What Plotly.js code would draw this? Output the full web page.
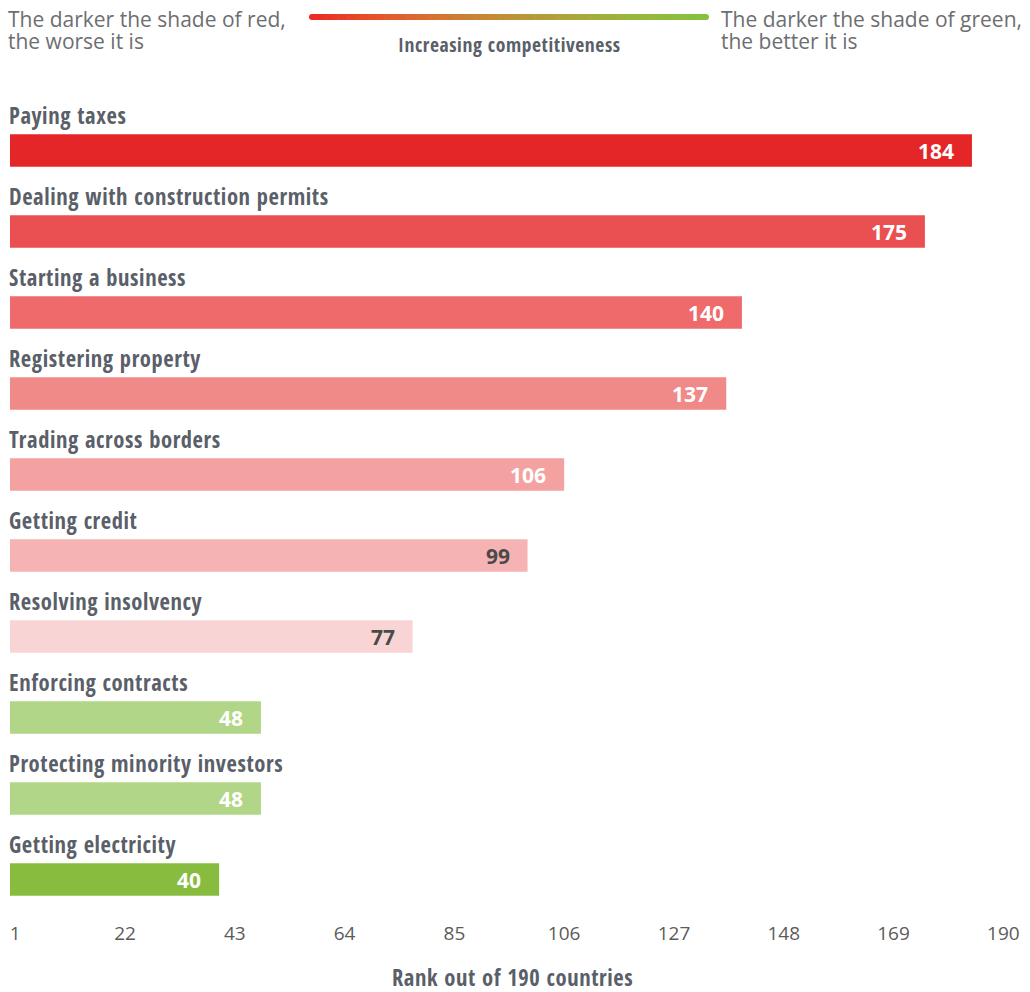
<!DOCTYPE html>
<html>
<head>
<meta charset="utf-8">
<script src="https://cdn.plot.ly/plotly-3.0.1.min.js"></script>
<style>
html,body{margin:0;padding:0;background:#fff;}
#chart{width:1030px;height:992px;}
text[style*="Condensed"]{font-stretch:75% !important;letter-spacing:0.6px;}
</style>
</head>
<body>
<div id="chart"></div>
<script>
const categories = ['Paying taxes', 'Dealing with construction permits', 'Starting a business', 'Registering property', 'Trading across borders', 'Getting credit', 'Resolving insolvency', 'Enforcing contracts', 'Protecting minority investors', 'Getting electricity'];
const ranks = [184, 175, 140, 137, 106, 99, 77, 48, 48, 40];
const barColors = ['#E52628', '#EA4F51', '#EE6A6B', '#F08A88', '#F4A2A1', '#F5B4B3', '#F8D4D4', '#B2D687', '#B2D687', '#88BC3F'];
const valueColors = ['#ffffff', '#ffffff', '#ffffff', '#ffffff', '#ffffff', '#4a4a4a', '#4a4a4a', '#ffffff', '#ffffff', '#ffffff'];
const tickVals = [1, 22, 43, 64, 85, 106, 127, 148, 169, 190];
const xTitle = 'Rank out of 190 countries';
const legendLeft = ['The darker the shade of red,', 'the worse it is'];
const legendRight = ['The darker the shade of green,', 'the better it is'];
const legendMid = 'Increasing competitiveness';
const gradientStops = ['#EE2A24', '#E4552B', '#D27632', '#BE9137', '#A8A83A', '#95B83D', '#86C03E'];

const W = 1030, H = 992;
const M = {l: 10, r: 16, t: 110, b: 72};
const PW = W - M.l - M.r, PH = H - M.t - M.b;
const px = v => (v - M.l) / PW;
const py = v => (H - M.b - v) / PH;

const condensed = '"Open Sans Condensed", "Open Sans", sans-serif';
const openSans = '"Open Sans", "Noto Sans", sans-serif';
const labelGray = '#5A5F69';
const textGray = '#6D6E71';

const trace = {
  type: 'bar',
  orientation: 'h',
  y: categories,
  x: ranks,
  marker: {color: barColors, line: {width: 0}},
  hoverinfo: 'none',
  textposition: 'none'
};

const annotations = [];
categories.forEach((c, i) => {
  annotations.push({
    x: 0, y: c, xref: 'x', yref: 'y', xanchor: 'left', yanchor: 'middle',
    yshift: 35.5, xshift: -2, text: c, showarrow: false, borderpad: 0,
    font: {family: condensed, size: 22.5, color: labelGray, weight: 'bold'}
  });
  annotations.push({
    x: ranks[i], y: c, xref: 'x', yref: 'y', xanchor: 'right', yanchor: 'middle',
    xshift: -16, yshift: 0, text: String(ranks[i]), showarrow: false,
    font: {family: openSans, size: 21, color: valueColors[i], weight: 'bold'}
  });
});
annotations.push({
  x: px(512), y: py(978), xref: 'paper', yref: 'paper', xanchor: 'center', yanchor: 'middle',
  text: xTitle, showarrow: false, borderpad: 0,
  font: {family: condensed, size: 22.5, color: labelGray, weight: 'bold'}
});
[[legendLeft, 7], [legendRight, 720]].forEach(([lines, x0]) => {
  lines.forEach((t, k) => {
    annotations.push({
      x: px(x0), y: py(19 + k * 22), xref: 'paper', yref: 'paper', xanchor: 'left', yanchor: 'middle',
      text: t, showarrow: false, borderpad: 0,
      font: {family: openSans, size: 21, color: textGray}
    });
  });
});
annotations.push({
  x: px(509), y: py(44), xref: 'paper', yref: 'paper', xanchor: 'center', yanchor: 'middle',
  text: legendMid, showarrow: false, borderpad: 0,
  font: {family: condensed, size: 19.5, color: labelGray, weight: 'bold'}
});

// gradient legend line built from many short segments
function hexToRgb(h) { return [1, 3, 5].map(i => parseInt(h.substr(i, 2), 16)); }
function colorAt(t) {
  const n = gradientStops.length - 1;
  const s = Math.min(n - 1e-9, t * n);
  const i = Math.floor(s), f = s - i;
  const a = hexToRgb(gradientStops[i]), b = hexToRgb(gradientStops[i + 1]);
  const c = a.map((v, k) => Math.round(v + (b[k] - v) * f));
  return 'rgb(' + c.join(',') + ')';
}
const shapes = [];
const gx0 = 312, gx1 = 706, gy = 17, segs = 120;
for (let s = 0; s < segs; s++) {
  const a = gx0 + (gx1 - gx0) * s / segs, b = gx0 + (gx1 - gx0) * (s + 1) / segs + 0.6;
  shapes.push({type: 'line', xref: 'paper', yref: 'paper', x0: px(a), x1: px(b), y0: py(gy), y1: py(gy),
    line: {color: colorAt((s + 0.5) / segs), width: 6}});
}
[[gx0, 0], [gx1, 1]].forEach(([cx, t]) => {
  shapes.push({type: 'circle', xref: 'paper', yref: 'paper', x0: px(cx - 3), x1: px(cx + 3), y0: py(gy + 3), y1: py(gy - 3),
    fillcolor: colorAt(t), line: {width: 0}});
});

const layout = {
  width: W, height: H,
  margin: M,
  paper_bgcolor: '#ffffff', plot_bgcolor: '#ffffff',
  showlegend: false,
  bargap: 0.6,
  xaxis: {
    range: [0, PW / 5.228], tickmode: 'array', tickvals: tickVals,
    showgrid: false, zeroline: false, showline: false, ticks: '',
    tickfont: {family: openSans, size: 19, color: '#5b5b5b'}
  },
  yaxis: {
    type: 'category', range: [categories.length - 0.5, -0.5],
    showticklabels: false, showgrid: false, zeroline: false, showline: false, ticks: ''
  },
  annotations: annotations,
  shapes: shapes
};

Plotly.newPlot('chart', [trace], layout, {displayModeBar: false, staticPlot: true});
</script>
</body>
</html>
